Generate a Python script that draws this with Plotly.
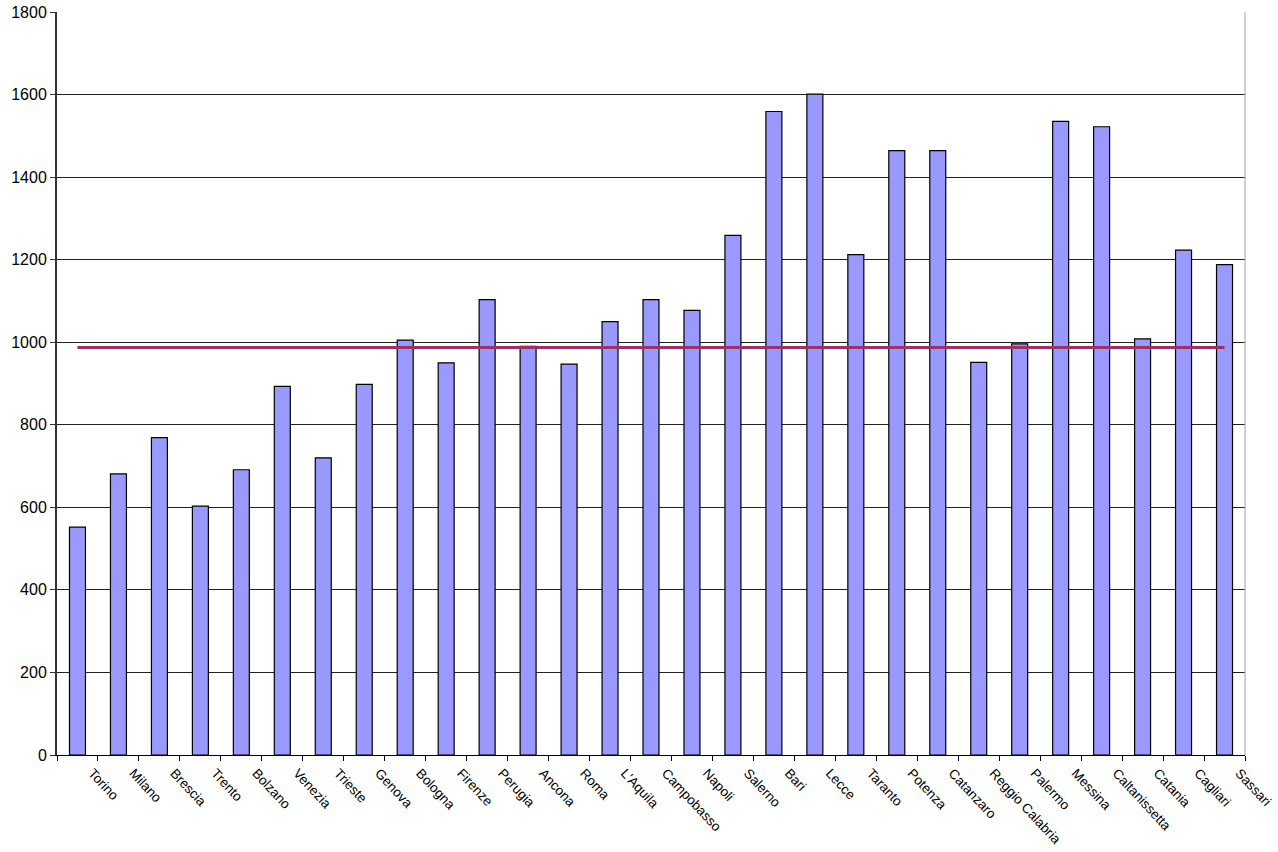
import plotly.graph_objects as go

# ---------------------------------------------------------------------------
# data
# ---------------------------------------------------------------------------
citta = [
    "Torino", "Milano", "Brescia", "Trento", "Bolzano", "Venezia", "Trieste",
    "Genova", "Bologna", "Firenze", "Perugia", "Ancona", "Roma", "L'Aquila",
    "Campobasso", "Napoli", "Salerno", "Bari", "Lecce", "Taranto", "Potenza",
    "Catanzaro", "Reggio Calabria", "Palermo", "Messina", "Caltanissetta",
    "Catania", "Cagliari", "Sassari",
]
valori = [
    552, 681, 769, 603, 691, 893, 720,
    898, 1005, 950, 1103, 990, 947, 1050,
    1103, 1077, 1259, 1559, 1601, 1212, 1464,
    1464, 951, 996, 1535, 1522,
    1008, 1223, 1188,
]
media = [987] * len(citta)

y_ticks = [0, 200, 400, 600, 800, 1000, 1200, 1400, 1600, 1800]

FONT = "Liberation Sans, Arial, sans-serif"

fig = go.Figure()

fig.add_trace(go.Bar(
    x=citta, y=valori,
    marker=dict(color="#9999FF", line=dict(color="#000000", width=1.2)),
    showlegend=False,
))

fig.add_trace(go.Scatter(
    x=citta, y=media, mode="lines",
    line=dict(color="#993366", width=3),
    showlegend=False,
))

fig.update_layout(
    width=1278, height=852,
    margin=dict(l=57, r=33, t=12, b=97),
    paper_bgcolor="white", plot_bgcolor="white",
    bargap=0.61,
    font=dict(family=FONT, size=14, color="black"),
    # light grey right border of the plot area
    shapes=[dict(type="line", xref="paper", yref="paper", x0=1, x1=1, y0=0, y1=1,
                 line=dict(color="#A0A0A0", width=1))],
)

fig.update_xaxes(
    type="category",
    automargin=False,
    tickangle=47,
    tickfont=dict(family=FONT, size=13.5, color="black"),
    ticks="outside", ticklen=5, tickcolor="#000000",
    tickson="boundaries",
    ticklabelshift=15,
    ticklabelstandoff=4,
    showline=True, linecolor="#000000", linewidth=1,
    showgrid=False,
)

fig.update_yaxes(
    range=[0, 1800],
    automargin=False,
    ticklabeloverflow="allow",
    tickvals=y_ticks,
    tickfont=dict(family=FONT, size=16, color="black"),
    ticks="outside", ticklen=5, tickcolor="#333333",
    showline=True, linecolor="#333333", linewidth=2,
    showgrid=True, gridcolor="#222222", gridwidth=1,
    zeroline=False,
)

# drop the browser's default 8px body margin so the figure fills the window
fig.write_html("out.html", config={"displayModeBar": False},
               post_script="document.body.style.margin = '0';")
